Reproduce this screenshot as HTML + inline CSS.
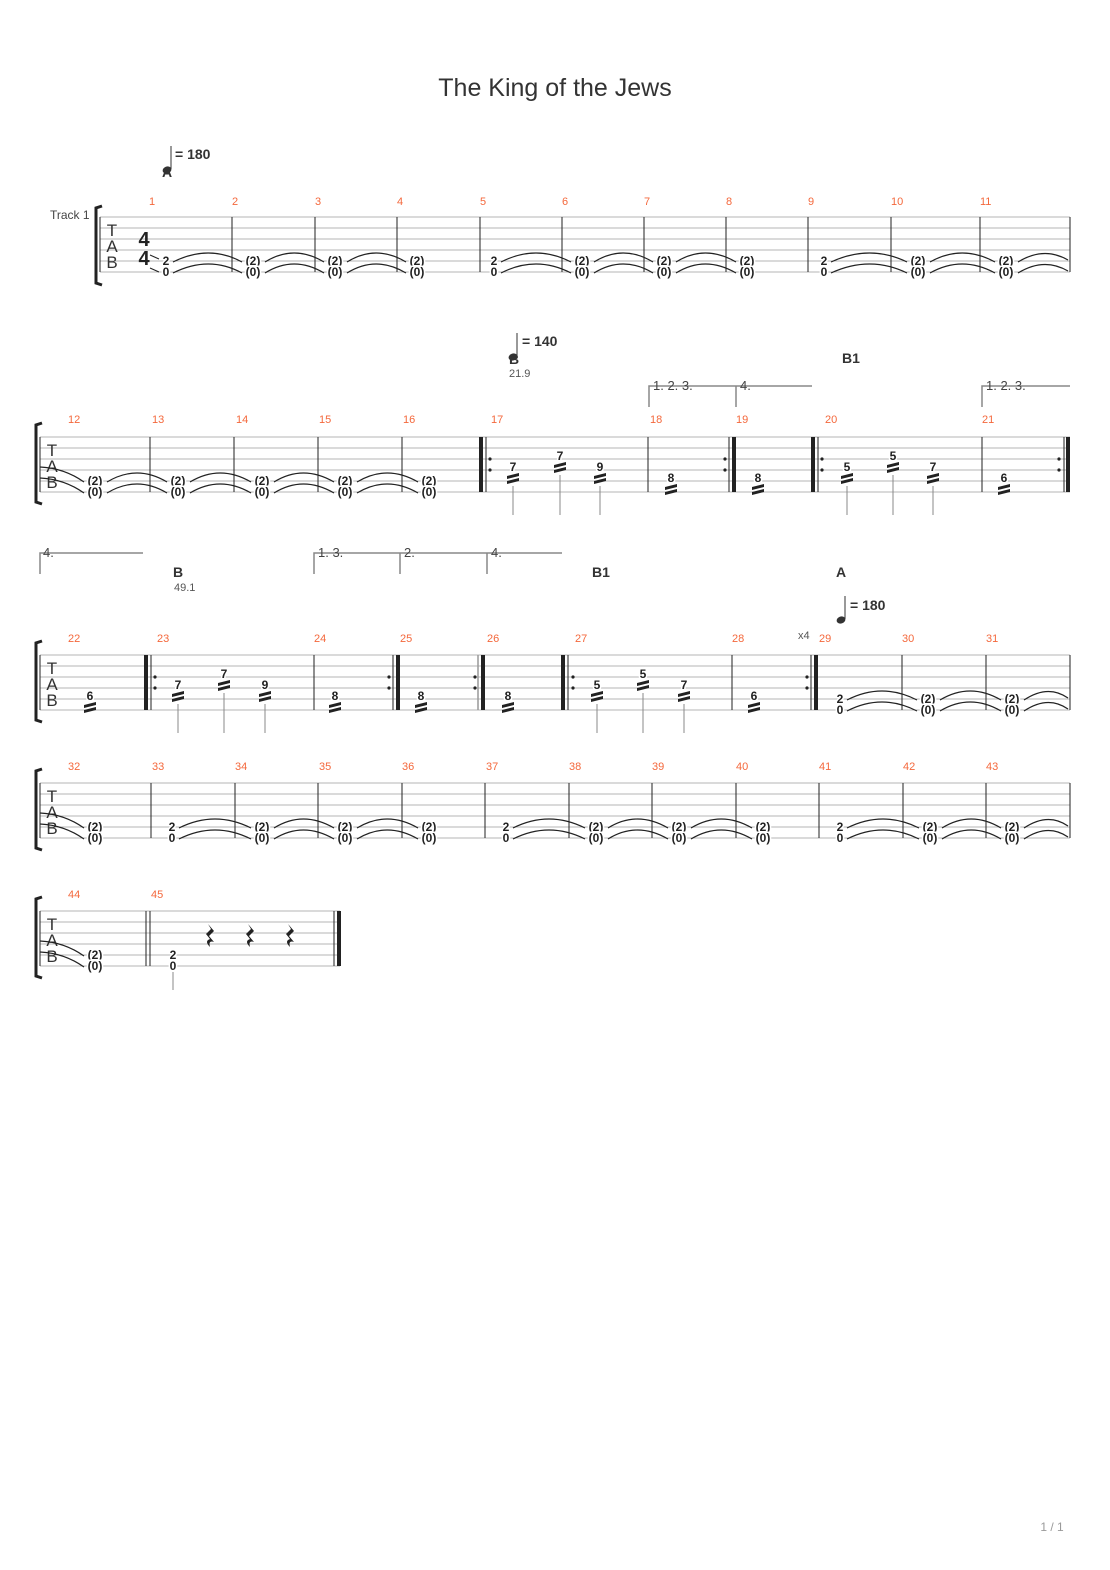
<!DOCTYPE html>
<html><head><meta charset="utf-8"><style>
html,body{margin:0;padding:0;background:#fff;}
svg{display:block;}
text{font-family:"Liberation Sans",sans-serif;}
.n{font-weight:bold;font-size:12px;text-anchor:middle;fill:#222;paint-order:stroke;stroke:#fff;stroke-width:3px;}
.m{font-size:11px;fill:#f4683c;}
.st line{stroke:#b5b5b5;stroke-width:1;}
.b{stroke:#222;stroke-width:1;}
.bk{stroke:#222;stroke-width:4;}
.t{fill:none;stroke:#222;stroke-width:1.2;}
.v{fill:none;stroke:#888;stroke-width:1.5;}
.vt{font-size:13px;fill:#444;}
.sec{font-weight:bold;font-size:14px;fill:#333;}
.tab{font-size:17px;fill:#333;text-anchor:middle;}
.stem{stroke:#888;stroke-width:1;}
</style></head><body>
<svg width="1110" height="1570" viewBox="0 0 1110 1570" xmlns="http://www.w3.org/2000/svg">
<defs>
<g id="tr"><path d="M-6,3 L6,0 L6,3 L-6,6Z M-6,8 L6,5 L6,8 L-6,11Z" fill="#222"/></g>
<g id="dots"><circle cx="0" cy="0" r="1.6" fill="#222"/><circle cx="0" cy="11" r="1.6" fill="#222"/></g>
<g id="rest"><path d="M-3,-12 L3,-5 L-2,0 L3,6 Q-3,4 -1,11 Q-7,5 -1,3 L-5,-2 L0,-7Z" fill="#222"/></g>
<g id="qn"><ellipse cx="0" cy="0" rx="4.5" ry="3.5" transform="rotate(-20)" fill="#333"/><line x1="4" y1="-1" x2="4" y2="-24" stroke="#333" stroke-width="1"/></g>
</defs>

<text x="555" y="96" text-anchor="middle" font-size="25" fill="#333">The King of the Jews</text>
<text x="1052" y="1531" text-anchor="middle" font-size="12" fill="#999">1 / 1</text>

<!-- ===== SYSTEM 1 ===== -->
<use href="#qn" x="167" y="170"/>
<text x="175" y="159" class="sec" font-size="14">= 180</text>
<text x="167" y="177" class="sec" font-size="11" text-anchor="middle">A</text>
<text x="50" y="219" font-size="12" fill="#444">Track 1</text>
<path d="M102,206 L96,208 L96,283 L102,285" fill="none" stroke="#222" stroke-width="3"/>
<g class="st"><line x1="100" y1="217" x2="1070" y2="217"/><line x1="100" y1="228" x2="1070" y2="228"/><line x1="100" y1="239" x2="1070" y2="239"/><line x1="100" y1="250" x2="1070" y2="250"/><line x1="100" y1="261" x2="1070" y2="261"/><line x1="100" y1="272" x2="1070" y2="272"/></g>
<g class="b"><line x1="100" y1="217" x2="100" y2="272"/><line x1="232" y1="217" x2="232" y2="272"/><line x1="315" y1="217" x2="315" y2="272"/><line x1="397" y1="217" x2="397" y2="272"/><line x1="480" y1="217" x2="480" y2="272"/><line x1="562" y1="217" x2="562" y2="272"/><line x1="644" y1="217" x2="644" y2="272"/><line x1="726" y1="217" x2="726" y2="272"/><line x1="808" y1="217" x2="808" y2="272"/><line x1="891" y1="217" x2="891" y2="272"/><line x1="980" y1="217" x2="980" y2="272"/><line x1="1070" y1="217" x2="1070" y2="272"/></g>
<text class="tab" x="112" y="236">T</text><text class="tab" x="112" y="252">A</text><text class="tab" x="112" y="268">B</text>
<text x="144" y="246" font-family="Liberation Serif" font-weight="bold" font-size="20" text-anchor="middle" fill="#222">4</text>
<text x="144" y="265" font-family="Liberation Serif" font-weight="bold" font-size="20" text-anchor="middle" fill="#222">4</text>
<path d="M150,255 L159,259 M150,268 L159,272" stroke="#222" stroke-width="1"/>
<g class="m"><text x="149" y="205">1</text><text x="232" y="205">2</text><text x="315" y="205">3</text><text x="397" y="205">4</text><text x="480" y="205">5</text><text x="562" y="205">6</text><text x="644" y="205">7</text><text x="726" y="205">8</text><text x="808" y="205">9</text><text x="891" y="205">10</text><text x="980" y="205">11</text></g>
<g class="n">
<text x="166" y="265">2</text><text x="166" y="276">0</text>
<text x="253" y="265">(2)</text><text x="253" y="276">(0)</text>
<text x="335" y="265">(2)</text><text x="335" y="276">(0)</text>
<text x="417" y="265">(2)</text><text x="417" y="276">(0)</text>
<text x="494" y="265">2</text><text x="494" y="276">0</text>
<text x="582" y="265">(2)</text><text x="582" y="276">(0)</text>
<text x="664" y="265">(2)</text><text x="664" y="276">(0)</text>
<text x="747" y="265">(2)</text><text x="747" y="276">(0)</text>
<text x="824" y="265">2</text><text x="824" y="276">0</text>
<text x="918" y="265">(2)</text><text x="918" y="276">(0)</text>
<text x="1006" y="265">(2)</text><text x="1006" y="276">(0)</text>
</g>
<g class="t">
<path d="M173,262 Q209,244 242,262 M173,273 Q209,255 242,273"/>
<path d="M265,262 Q294,244 324,262 M265,273 Q294,255 324,273"/>
<path d="M347,262 Q376,244 406,262 M347,273 Q376,255 406,273"/>
<path d="M501,262 Q536,244 571,262 M501,273 Q536,255 571,273"/>
<path d="M594,262 Q623,244 653,262 M594,273 Q623,255 653,273"/>
<path d="M676,262 Q705,244 736,262 M676,273 Q705,255 736,273"/>
<path d="M831,262 Q870,244 907,262 M831,273 Q870,255 907,273"/>
<path d="M930,262 Q962,244 995,262 M930,273 Q962,255 995,273"/>
<path d="M1018,262 Q1044,246 1068,260 M1018,273 Q1044,257 1068,271"/>
</g>

<!-- ===== SYSTEM 2 ===== -->
<use href="#qn" x="513" y="357"/>
<text x="522" y="346" class="sec">= 140</text>
<text x="514" y="364" class="sec" font-size="12" text-anchor="middle">B</text>
<text x="509" y="377" font-size="11" fill="#555">21.9</text>
<text x="842" y="363" class="sec">B1</text>
<path class="v" d="M649,407 L649,386 L812,386 M736,407 L736,386 M982,407 L982,386 L1070,386"/>
<text class="vt" x="653" y="390">1. 2. 3.</text><text class="vt" x="740" y="390">4.</text><text class="vt" x="986" y="390">1. 2. 3.</text>
<path d="M42,423 L36,425 L36,502 L42,504" fill="none" stroke="#222" stroke-width="3"/>
<g class="st"><line x1="40" y1="437" x2="1070" y2="437"/><line x1="40" y1="448" x2="1070" y2="448"/><line x1="40" y1="459" x2="1070" y2="459"/><line x1="40" y1="470" x2="1070" y2="470"/><line x1="40" y1="481" x2="1070" y2="481"/><line x1="40" y1="492" x2="1070" y2="492"/></g>
<g class="b"><line x1="40" y1="437" x2="40" y2="492"/><line x1="150" y1="437" x2="150" y2="492"/><line x1="234" y1="437" x2="234" y2="492"/><line x1="318" y1="437" x2="318" y2="492"/><line x1="402" y1="437" x2="402" y2="492"/><line x1="486" y1="437" x2="486" y2="492"/><line x1="648" y1="437" x2="648" y2="492"/><line x1="729" y1="437" x2="729" y2="492"/><line x1="818" y1="437" x2="818" y2="492"/><line x1="982" y1="437" x2="982" y2="492"/><line x1="1064" y1="437" x2="1064" y2="492"/></g>
<g class="bk"><line x1="481" y1="437" x2="481" y2="492"/><line x1="734" y1="437" x2="734" y2="492"/><line x1="813" y1="437" x2="813" y2="492"/><line x1="1068" y1="437" x2="1068" y2="492"/></g>
<use href="#dots" x="490" y="459"/><use href="#dots" x="725" y="459"/><use href="#dots" x="822" y="459"/><use href="#dots" x="1059" y="459"/>
<text class="tab" x="52" y="456">T</text><text class="tab" x="52" y="472">A</text><text class="tab" x="52" y="488">B</text>
<g class="m"><text x="68" y="423">12</text><text x="152" y="423">13</text><text x="236" y="423">14</text><text x="319" y="423">15</text><text x="403" y="423">16</text><text x="491" y="423">17</text><text x="650" y="423">18</text><text x="736" y="423">19</text><text x="825" y="423">20</text><text x="982" y="423">21</text></g>
<g class="n">
<text x="95" y="485">(2)</text><text x="95" y="496">(0)</text>
<text x="178" y="485">(2)</text><text x="178" y="496">(0)</text>
<text x="262" y="485">(2)</text><text x="262" y="496">(0)</text>
<text x="345" y="485">(2)</text><text x="345" y="496">(0)</text>
<text x="429" y="485">(2)</text><text x="429" y="496">(0)</text>
<text x="513" y="471">7</text><text x="560" y="460">7</text><text x="600" y="471">9</text>
<text x="671" y="482">8</text><text x="758" y="482">8</text>
<text x="847" y="471">5</text><text x="893" y="460">5</text><text x="933" y="471">7</text>
<text x="1004" y="482">6</text>
</g>
<use href="#tr" x="513" y="473"/><use href="#tr" x="560" y="462"/><use href="#tr" x="600" y="473"/>
<use href="#tr" x="671" y="484"/><use href="#tr" x="758" y="484"/>
<use href="#tr" x="847" y="473"/><use href="#tr" x="893" y="462"/><use href="#tr" x="933" y="473"/>
<use href="#tr" x="1004" y="484"/>
<g class="stem"><line x1="513" y1="486" x2="513" y2="515"/><line x1="560" y1="475" x2="560" y2="515"/><line x1="600" y1="486" x2="600" y2="515"/><line x1="847" y1="486" x2="847" y2="515"/><line x1="893" y1="475" x2="893" y2="515"/><line x1="933" y1="486" x2="933" y2="515"/></g>
<g class="t">
<path d="M40,467 Q64,468 84,482 M40,478 Q64,479 84,493"/>
<path d="M107,482 Q137,464 167,482 M107,493 Q137,475 167,493"/>
<path d="M190,482 Q220,464 251,482 M190,493 Q220,475 251,493"/>
<path d="M274,482 Q303,464 334,482 M274,493 Q303,475 334,493"/>
<path d="M357,482 Q387,464 418,482 M357,493 Q387,475 418,493"/>
</g>

<!-- ===== SYSTEM 3 ===== -->
<path class="v" d="M40,574 L40,553 L143,553 M314,574 L314,553 L562,553 M400,574 L400,553 M487,574 L487,553"/>
<text class="vt" x="43" y="557">4.</text><text class="vt" x="318" y="557">1. 3.</text><text class="vt" x="404" y="557">2.</text><text class="vt" x="491" y="557">4.</text>
<text x="173" y="577" class="sec">B</text><text x="174" y="591" font-size="11" fill="#555">49.1</text>
<text x="592" y="577" class="sec">B1</text>
<text x="836" y="577" class="sec">A</text>
<use href="#qn" x="841" y="620"/>
<text x="850" y="610" class="sec">= 180</text>
<text x="798" y="639" font-size="11" fill="#555">x4</text>
<path d="M42,641 L36,643 L36,720 L42,722" fill="none" stroke="#222" stroke-width="3"/>
<g class="st"><line x1="40" y1="655" x2="1070" y2="655"/><line x1="40" y1="666" x2="1070" y2="666"/><line x1="40" y1="677" x2="1070" y2="677"/><line x1="40" y1="688" x2="1070" y2="688"/><line x1="40" y1="699" x2="1070" y2="699"/><line x1="40" y1="710" x2="1070" y2="710"/></g>
<g class="b"><line x1="40" y1="655" x2="40" y2="710"/><line x1="151" y1="655" x2="151" y2="710"/><line x1="314" y1="655" x2="314" y2="710"/><line x1="393" y1="655" x2="393" y2="710"/><line x1="568" y1="655" x2="568" y2="710"/><line x1="732" y1="655" x2="732" y2="710"/><line x1="811" y1="655" x2="811" y2="710"/><line x1="902" y1="655" x2="902" y2="710"/><line x1="986" y1="655" x2="986" y2="710"/><line x1="1070" y1="655" x2="1070" y2="710"/></g>
<line x1="478" y1="655" x2="478" y2="710" stroke="#999" stroke-width="1.5"/>
<g class="bk"><line x1="146" y1="655" x2="146" y2="710"/><line x1="398" y1="655" x2="398" y2="710"/><line x1="483" y1="655" x2="483" y2="710"/><line x1="563" y1="655" x2="563" y2="710"/><line x1="816" y1="655" x2="816" y2="710"/></g>
<use href="#dots" x="155" y="677"/><use href="#dots" x="389" y="677"/><use href="#dots" x="475" y="677"/><use href="#dots" x="573" y="677"/><use href="#dots" x="807" y="677"/>
<text class="tab" x="52" y="674">T</text><text class="tab" x="52" y="690">A</text><text class="tab" x="52" y="706">B</text>
<g class="m"><text x="68" y="642">22</text><text x="157" y="642">23</text><text x="314" y="642">24</text><text x="400" y="642">25</text><text x="487" y="642">26</text><text x="575" y="642">27</text><text x="732" y="642">28</text><text x="819" y="642">29</text><text x="902" y="642">30</text><text x="986" y="642">31</text></g>
<g class="n">
<text x="90" y="700">6</text>
<text x="178" y="689">7</text><text x="224" y="678">7</text><text x="265" y="689">9</text>
<text x="335" y="700">8</text><text x="421" y="700">8</text><text x="508" y="700">8</text>
<text x="597" y="689">5</text><text x="643" y="678">5</text><text x="684" y="689">7</text>
<text x="754" y="700">6</text>
<text x="840" y="703">2</text><text x="840" y="714">0</text>
<text x="928" y="703">(2)</text><text x="928" y="714">(0)</text>
<text x="1012" y="703">(2)</text><text x="1012" y="714">(0)</text>
</g>
<use href="#tr" x="90" y="702"/>
<use href="#tr" x="178" y="691"/><use href="#tr" x="224" y="680"/><use href="#tr" x="265" y="691"/>
<use href="#tr" x="335" y="702"/><use href="#tr" x="421" y="702"/><use href="#tr" x="508" y="702"/>
<use href="#tr" x="597" y="691"/><use href="#tr" x="643" y="680"/><use href="#tr" x="684" y="691"/>
<use href="#tr" x="754" y="702"/>
<g class="stem"><line x1="178" y1="704" x2="178" y2="733"/><line x1="224" y1="693" x2="224" y2="733"/><line x1="265" y1="704" x2="265" y2="733"/><line x1="597" y1="704" x2="597" y2="733"/><line x1="643" y1="693" x2="643" y2="733"/><line x1="684" y1="704" x2="684" y2="733"/></g>
<g class="t">
<path d="M847,700 Q882,682 917,700 M847,711 Q882,693 917,711"/>
<path d="M940,700 Q970,682 1001,700 M940,711 Q970,693 1001,711"/>
<path d="M1024,700 Q1048,684 1068,698 M1024,711 Q1048,695 1068,709"/>
</g>

<!-- ===== SYSTEM 4 ===== -->
<path d="M42,769 L36,771 L36,848 L42,850" fill="none" stroke="#222" stroke-width="3"/>
<g class="st"><line x1="40" y1="783" x2="1070" y2="783"/><line x1="40" y1="794" x2="1070" y2="794"/><line x1="40" y1="805" x2="1070" y2="805"/><line x1="40" y1="816" x2="1070" y2="816"/><line x1="40" y1="827" x2="1070" y2="827"/><line x1="40" y1="838" x2="1070" y2="838"/></g>
<g class="b"><line x1="40" y1="783" x2="40" y2="838"/><line x1="151" y1="783" x2="151" y2="838"/><line x1="235" y1="783" x2="235" y2="838"/><line x1="318" y1="783" x2="318" y2="838"/><line x1="402" y1="783" x2="402" y2="838"/><line x1="485" y1="783" x2="485" y2="838"/><line x1="569" y1="783" x2="569" y2="838"/><line x1="652" y1="783" x2="652" y2="838"/><line x1="736" y1="783" x2="736" y2="838"/><line x1="819" y1="783" x2="819" y2="838"/><line x1="903" y1="783" x2="903" y2="838"/><line x1="986" y1="783" x2="986" y2="838"/><line x1="1070" y1="783" x2="1070" y2="838"/></g>
<text class="tab" x="52" y="802">T</text><text class="tab" x="52" y="818">A</text><text class="tab" x="52" y="834">B</text>
<g class="m"><text x="68" y="770">32</text><text x="152" y="770">33</text><text x="235" y="770">34</text><text x="319" y="770">35</text><text x="402" y="770">36</text><text x="486" y="770">37</text><text x="569" y="770">38</text><text x="652" y="770">39</text><text x="736" y="770">40</text><text x="819" y="770">41</text><text x="903" y="770">42</text><text x="986" y="770">43</text></g>
<g class="n">
<text x="95" y="831">(2)</text><text x="95" y="842">(0)</text>
<text x="172" y="831">2</text><text x="172" y="842">0</text>
<text x="262" y="831">(2)</text><text x="262" y="842">(0)</text>
<text x="345" y="831">(2)</text><text x="345" y="842">(0)</text>
<text x="429" y="831">(2)</text><text x="429" y="842">(0)</text>
<text x="506" y="831">2</text><text x="506" y="842">0</text>
<text x="596" y="831">(2)</text><text x="596" y="842">(0)</text>
<text x="679" y="831">(2)</text><text x="679" y="842">(0)</text>
<text x="763" y="831">(2)</text><text x="763" y="842">(0)</text>
<text x="840" y="831">2</text><text x="840" y="842">0</text>
<text x="930" y="831">(2)</text><text x="930" y="842">(0)</text>
<text x="1012" y="831">(2)</text><text x="1012" y="842">(0)</text>
</g>
<g class="t">
<path d="M40,813 Q64,814 84,828 M40,824 Q64,825 84,839"/>
<path d="M179,828 Q215,810 251,828 M179,839 Q215,821 251,839"/>
<path d="M274,828 Q303,810 334,828 M274,839 Q303,821 334,839"/>
<path d="M357,828 Q387,810 418,828 M357,839 Q387,821 418,839"/>
<path d="M513,828 Q549,810 585,828 M513,839 Q549,821 585,839"/>
<path d="M608,828 Q637,810 668,828 M608,839 Q637,821 668,839"/>
<path d="M691,828 Q721,810 752,828 M691,839 Q721,821 752,839"/>
<path d="M847,828 Q883,810 919,828 M847,839 Q883,821 919,839"/>
<path d="M942,828 Q971,810 1001,828 M942,839 Q971,821 1001,839"/>
<path d="M1024,828 Q1048,812 1068,826 M1024,839 Q1048,823 1068,837"/>
</g>

<!-- ===== SYSTEM 5 ===== -->
<path d="M42,897 L36,899 L36,976 L42,978" fill="none" stroke="#222" stroke-width="3"/>
<g class="st"><line x1="40" y1="911" x2="340" y2="911"/><line x1="40" y1="922" x2="340" y2="922"/><line x1="40" y1="933" x2="340" y2="933"/><line x1="40" y1="944" x2="340" y2="944"/><line x1="40" y1="955" x2="340" y2="955"/><line x1="40" y1="966" x2="340" y2="966"/></g>
<g class="b"><line x1="40" y1="911" x2="40" y2="966"/><line x1="146" y1="911" x2="146" y2="966"/><line x1="150" y1="911" x2="150" y2="966"/><line x1="334" y1="911" x2="334" y2="966"/></g>
<line class="bk" x1="339" y1="911" x2="339" y2="966"/>
<text class="tab" x="52" y="930">T</text><text class="tab" x="52" y="946">A</text><text class="tab" x="52" y="962">B</text>
<g class="m"><text x="68" y="898">44</text><text x="151" y="898">45</text></g>
<g class="n">
<text x="95" y="959">(2)</text><text x="95" y="970">(0)</text>
<text x="173" y="959">2</text><text x="173" y="970">0</text>
</g>
<line class="stem" x1="173" y1="972" x2="173" y2="990"/>
<use href="#rest" x="211" y="936"/><use href="#rest" x="251" y="936"/><use href="#rest" x="291" y="936"/>
<g class="t"><path d="M40,941 Q64,942 84,956 M40,952 Q64,953 84,967"/></g>
</svg>
</body></html>
